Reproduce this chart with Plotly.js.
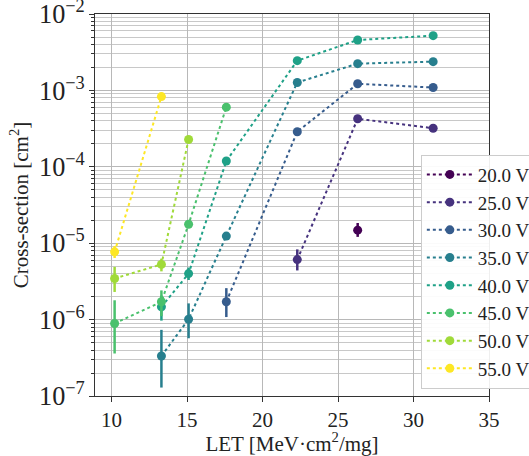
<!DOCTYPE html>
<html>
<head>
<meta charset="utf-8">
<script src="https://cdn.plot.ly/plotly-3.0.1.min.js"></script>
<style>
  html, body { margin: 0; padding: 0; background: #fff; }
  #chart { width: 529px; height: 456px; }
</style>
</head>
<body>
<div id="chart"></div>
<script>
// Cross-section vs LET for each bias voltage (viridis colours)
const voltageLabels = ["20.0 V", "25.0 V", "30.0 V", "35.0 V", "40.0 V", "45.0 V", "50.0 V", "55.0 V"];
const colors = ["#440154", "#46327e", "#365c8d", "#277f8e", "#1fa187", "#4ac16d", "#a0da39", "#fde725"];

const let20 = [26.3];
const xs20  = [1.48e-5];
const up20  = [3.6e-6];
const dn20  = [2.7e-6];

const let25 = [22.3, 26.3, 31.3];
const xs25  = [6.1e-6, 4.25e-4, 3.2e-4];
const up25  = [2.2e-6, 0, 0];
const dn25  = [1.7e-6, 0, 0];

const let30 = [17.6, 22.3, 26.3, 31.3];
const xs30  = [1.71e-6, 2.88e-4, 1.22e-3, 1.09e-3];
const up30  = [8.7e-7, 0, 0, 0];
const dn30  = [6.3e-7, 0, 0, 0];

const let35 = [13.3, 15.1, 17.6, 22.3, 26.3, 31.3];
const xs35  = [3.34e-7, 1.01e-6, 1.24e-5, 1.27e-3, 2.24e-3, 2.38e-3];
const up35  = [4.0e-7, 6.2e-7, 1.5e-6, 0, 0, 0];
const dn35  = [2.05e-7, 4.4e-7, 1.3e-6, 0, 0, 0];

const let40 = [13.3, 15.1, 17.6, 22.3, 26.3, 31.3];
const xs40  = [1.47e-6, 4.0e-6, 1.19e-4, 2.45e-3, 4.57e-3, 5.21e-3];
const up40  = [6e-7, 8e-7, 0, 0, 0, 0];
const dn40  = [5e-7, 7e-7, 0, 0, 0, 0];

const let45 = [10.2, 13.3, 15.1, 17.6];
const xs45  = [8.9e-7, 1.71e-6, 1.77e-5, 6.03e-4];
const up45  = [9e-7, 7e-7, 0, 0];
const dn45  = [5.3e-7, 6e-7, 0, 0];

const let50 = [10.2, 13.3, 15.1];
const xs50  = [3.45e-6, 5.28e-6, 2.28e-4];
const up50  = [1.45e-6, 1e-6, 0];
const dn50  = [1.15e-6, 1e-6, 0];

const let55 = [10.2, 13.3];
const xs55  = [7.7e-6, 8.3e-4];
const up55  = [1.5e-6, 0];
const dn55  = [1.3e-6, 0];

const series = [
  [let20, xs20, up20, dn20],
  [let25, xs25, up25, dn25],
  [let30, xs30, up30, dn30],
  [let35, xs35, up35, dn35],
  [let40, xs40, up40, dn40],
  [let45, xs45, up45, dn45],
  [let50, xs50, up50, dn50],
  [let55, xs55, up55, dn55]
];

const traces = series.map((s, i) => ({
  type: "scatter",
  mode: "lines+markers",
  name: voltageLabels[i],
  x: s[0],
  y: s[1],
  line: { color: colors[i], dash: "dot", width: 2 },
  marker: { color: colors[i], size: 9 },
  error_y: {
    type: "data", symmetric: false,
    array: s[2], arrayminus: s[3],
    color: colors[i], thickness: 2.5, width: 0
  }
}));

const serif = "'Liberation Serif', 'Times New Roman', serif";

const layout = {
  width: 529, height: 456,
  margin: { l: 95, r: 40, t: 14, b: 60, autoexpand: false },
  paper_bgcolor: "#fff",
  plot_bgcolor: "#fff",
  font: { family: serif, size: 21, color: "#222" },
  showlegend: true,
  legend: {
    x: 0.827, y: 0.632, xanchor: "left", yanchor: "top",
    itemwidth: 46,
    bgcolor: "rgba(255,255,255,0.92)", bordercolor: "#cccccc", borderwidth: 1,
    font: { family: serif, size: 19, color: "#222" }
  },
  xaxis: {
    range: [8.9, 35],
    tick0: 0, dtick: 5,
    showgrid: true, gridcolor: "#b8b8b8", gridwidth: 1,
    zeroline: false,
    showline: true, linecolor: "#333", linewidth: 1, mirror: true,
    ticks: "outside", ticklen: 5, tickcolor: "#333",
    ticklabeloverflow: "allow",
    tickfont: { family: serif, size: 21, color: "#222" },
    title: { text: "LET [MeV·cm<sup>2</sup>/mg]", font: { family: serif, size: 21, color: "#222" }, standoff: 8 }
  },
  yaxis: {
    type: "log",
    range: [-7, -2],
    dtick: 1,
    exponentformat: "power",
    ticklabeloverflow: "allow",
    showgrid: true, gridcolor: "#b8b8b8", gridwidth: 1,
    minor: { showgrid: true, gridcolor: "#c8c8c8", gridwidth: 1, ticks: "outside", ticklen: 3, tickcolor: "#333" },
    zeroline: false,
    showline: true, linecolor: "#333", linewidth: 1, mirror: true,
    ticks: "outside", ticklen: 5, tickcolor: "#333",
    tickfont: { family: serif, size: 21, color: "#222" },
    title: { text: "Cross-section [cm<sup>2</sup>]", font: { family: serif, size: 21, color: "#222" }, standoff: 4 }
  }
};

Plotly.newPlot("chart", traces, layout, { displayModeBar: false, staticPlot: true });
</script>
</body>
</html>
